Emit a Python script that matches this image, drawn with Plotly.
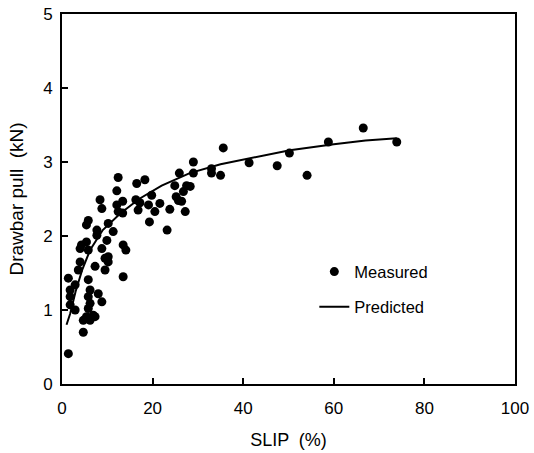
import plotly.graph_objects as go

# Measured data (slip %, drawbar pull kN)
slip_measured = [29.0, 29.0, 28.3, 33.0, 33.0, 35.0, 35.6, 41.3, 47.5, 50.2, 54.1, 58.8, 66.5, 73.9,
                 25.9, 27.5, 26.8, 24.9, 25.2, 26.4, 25.7, 27.2, 23.8, 21.6, 20.5, 19.1, 19.3, 23.2,
                 19.8, 18.3, 16.5, 17.2, 16.3, 16.8, 13.4, 13.4, 13.5, 14.1, 12.4, 12.1, 8.4, 8.8,
                 12.1, 12.4, 5.8, 5.4, 10.2, 7.7, 7.7, 11.3, 4.3, 5.4, 4.0, 9.9, 8.8, 5.8, 10.2,
                 9.5, 10.2, 4.0, 7.3, 3.6, 9.5, 13.5, 1.4, 5.8, 2.9, 6.2, 1.8, 8.0, 5.8, 1.8, 6.2,
                 8.8, 1.8, 2.9, 5.8, 5.4, 6.9, 4.7, 6.2, 7.3, 4.7, 1.4]
pull_measured = [3.00, 2.85, 2.67, 2.91, 2.85, 2.82, 3.19, 2.99, 2.95, 3.12, 2.82, 3.27, 3.46, 3.27,
                 2.85, 2.68, 2.60, 2.68, 2.53, 2.47, 2.48, 2.33, 2.36, 2.44, 2.33, 2.42, 2.19, 2.08,
                 2.55, 2.76, 2.71, 2.45, 2.49, 2.35, 2.47, 2.31, 1.88, 1.81, 2.79, 2.61, 2.49, 2.37,
                 2.42, 2.33, 2.21, 2.15, 2.17, 2.08, 2.01, 2.06, 1.88, 1.92, 1.83, 1.94, 1.83, 1.81, 1.72,
                 1.70, 1.65, 1.65, 1.59, 1.54, 1.54, 1.45, 1.43, 1.41, 1.34, 1.27, 1.27, 1.22, 1.18, 1.18, 1.09,
                 1.11, 1.07, 1.00, 1.02, 0.91, 0.93, 0.86, 0.86, 0.91, 0.70, 0.41]

# Predicted curve
slip_pred = [1.0, 1.8, 3.0, 4.5, 6.2, 9.0, 12.8, 17.0, 22.0, 28.2, 35.0, 42.0, 50.3, 60.0, 67.0, 73.9]
pull_pred = [0.80, 0.95, 1.25, 1.55, 1.81, 2.08, 2.30, 2.50, 2.68, 2.85, 2.97, 3.06, 3.16, 3.24, 3.29, 3.32]

x_ticks = [0, 20, 40, 60, 80, 100]
y_ticks = [0, 1, 2, 3, 4, 5]

FONT = "Liberation Sans, Arial, sans-serif"

fig = go.Figure()
fig.add_trace(go.Scatter(x=slip_measured, y=pull_measured, mode="markers", name="Measured",
                         marker=dict(color="black", size=9, line=dict(width=0)), legend="legend"))
fig.add_trace(go.Scatter(x=slip_pred, y=pull_pred, mode="lines", name="Predicted",
                         line=dict(color="black", width=2), legend="legend2"))

axis_common = dict(showgrid=False, zeroline=False, showline=True, linecolor="black", linewidth=2,
                   mirror=True, ticks="inside", ticklen=6, tickwidth=1.5, tickcolor="black",
                   automargin=False,
                   tickfont=dict(family=FONT, size=17, color="black"))

legend_common = dict(xanchor="left", yanchor="middle", bgcolor="rgba(0,0,0,0)",
                     font=dict(family=FONT, size=16.5, color="black"), itemwidth=30)

fig.update_layout(
    width=534, height=453,
    margin=dict(l=62, r=19, t=14, b=69, autoexpand=False),
    paper_bgcolor="white", plot_bgcolor="white",
    font=dict(family=FONT, color="black"),
    xaxis=dict(range=[0, 100], tickvals=x_ticks, ticklabelstandoff=8,
               title=dict(text="SLIP  (%)", font=dict(family=FONT, size=18), standoff=16),
               **axis_common),
    yaxis=dict(range=[0, 5], tickvals=y_ticks, ticklabelstandoff=4,
               title=dict(text="Drawbar pull  (kN)", font=dict(family=FONT, size=19), standoff=14),
               **axis_common),
    legend=dict(x=0.557, y=0.303, **legend_common),
    legend2=dict(x=0.557, y=0.208, **legend_common),
    showlegend=True,
)

fig.write_html("out.html")
